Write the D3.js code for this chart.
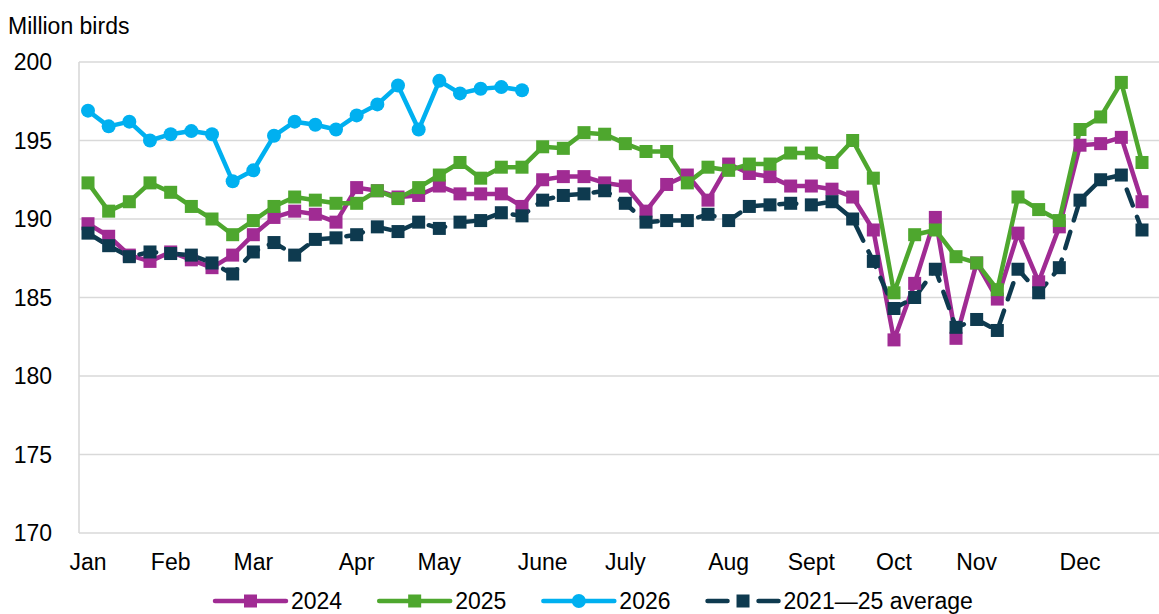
<!DOCTYPE html>
<html>
<head>
<meta charset="utf-8">
<script src="https://cdn.jsdelivr.net/npm/d3@7"></script>
<style>
  body { margin: 0; background: #fff; }
  text { font-family: Arial, "Liberation Sans", sans-serif; fill: #000; }
</style>
</head>
<body>
<script>
// chart data: weekly values, million birds
var weeks = d3.range(1, 53);
var y2024 = [189.7, 188.9, 187.7, 187.3, 187.9, 187.4, 186.9, 187.7, 189.0, 190.1,
             190.5, 190.3, 189.8, 192.0, 191.8, 191.4, 191.5, 192.1, 191.6, 191.6,
             191.6, 190.8, 192.5, 192.7, 192.7, 192.3, 192.1, 190.5, 192.2, 192.8,
             191.2, 193.5, 192.9, 192.7, 192.1, 192.1, 191.9, 191.4, 189.3, 182.3,
             185.9, 190.1, 182.4, 187.2, 184.9, 189.1, 186.0, 189.5, 194.7, 194.8,
             195.2, 191.1];
var y2025 = [192.3, 190.5, 191.1, 192.3, 191.7, 190.8, 190.0, 189.0, 189.9, 190.8,
             191.4, 191.2, 191.0, 191.0, 191.8, 191.3, 192.0, 192.8, 193.6, 192.6,
             193.3, 193.3, 194.6, 194.5, 195.5, 195.4, 194.8, 194.3, 194.3, 192.3,
             193.3, 193.1, 193.5, 193.5, 194.2, 194.2, 193.6, 195.0, 192.6, 185.3,
             189.0, 189.3, 187.6, 187.2, 185.5, 191.4, 190.6, 189.9, 195.7, 196.5,
             198.7, 193.6];
var y2026 = [196.9, 195.9, 196.2, 195.0, 195.4, 195.6, 195.4, 192.4, 193.1, 195.3,
             196.2, 196.0, 195.7, 196.6, 197.3, 198.5, 195.7, 198.8, 198.0, 198.3,
             198.4, 198.2];
var yAvg = [189.1, 188.3, 187.6, 187.9, 187.8, 187.7, 187.2, 186.5, 187.9, 188.5,
            187.7, 188.7, 188.8, 189.0, 189.5, 189.2, 189.8, 189.4, 189.8, 189.9,
            190.4, 190.2, 191.2, 191.5, 191.6, 191.8, 191.0, 189.8, 189.9, 189.9,
            190.3, 189.9, 190.8, 190.9, 191.0, 190.9, 191.1, 190.0, 187.3, 184.3,
            185.0, 186.8, 183.1, 183.6, 182.9, 186.8, 185.3, 186.9, 191.2, 192.5,
            192.8, 189.3];

var monthLabels = ["Jan", "Feb", "Mar", "Apr", "May", "June", "July", "Aug", "Sept", "Oct", "Nov", "Dec"];
var monthWeeks = [1, 5, 9, 14, 18, 23, 27, 32, 36, 40, 44, 49];
var yTicks = [170, 175, 180, 185, 190, 195, 200];

var series = [
  { name: "2024", values: y2024, color: "#A02B93", marker: "square", dash: null },
  { name: "2025", values: y2025, color: "#4EA72E", marker: "square", dash: null },
  { name: "2026", values: y2026, color: "#00B0F0", marker: "circle", dash: null },
  { name: "2021\u201425 average", values: yAvg, color: "#0E3A4F", marker: "square", dash: "17,12" }
];

var width = 1159,
    height = 614;

var x = d3.scaleLinear().domain([1, 52]).range([88, 1142]);
var y = d3.scaleLinear().domain([170, 200]).range([533, 62]);

var svg = d3.select("body").append("svg")
    .attr("width", width)
    .attr("height", height);

// gridlines
svg.append("g")
    .selectAll("line")
    .data(yTicks)
    .enter().append("line")
    .attr("x1", 79)
    .attr("x2", width)
    .attr("y1", function(d) { return y(d); })
    .attr("y2", function(d) { return y(d); })
    .attr("stroke", "#D9D9D9")
    .attr("stroke-width", 1.6);

// left axis line
svg.append("line")
    .attr("x1", 79).attr("x2", 79)
    .attr("y1", y(200)).attr("y2", y(170))
    .attr("stroke", "#D9D9D9")
    .attr("stroke-width", 1.6);

// y tick labels
svg.append("g")
    .selectAll("text")
    .data(yTicks)
    .enter().append("text")
    .attr("x", 52)
    .attr("y", function(d) { return y(d) + 8; })
    .attr("text-anchor", "end")
    .style("font-size", "23px")
    .text(function(d) { return d; });

svg.append("text")
    .attr("x", 8)
    .attr("y", 34)
    .style("font-size", "23px")
    .text("Million birds");

// month labels
svg.append("g")
    .selectAll("text")
    .data(monthLabels)
    .enter().append("text")
    .attr("x", function(d, i) { return x(monthWeeks[i]); })
    .attr("y", 570)
    .attr("text-anchor", "middle")
    .style("font-size", "23px")
    .text(function(d) { return d; });

var line = d3.line()
    .x(function(d, i) { return x(weeks[i]); })
    .y(function(d) { return y(d); });

// lines first
svg.append("g")
    .selectAll("path")
    .data(series)
    .enter().append("path")
    .attr("d", function(s) { return line(s.values); })
    .attr("fill", "none")
    .attr("stroke", function(s) { return s.color; })
    .attr("stroke-width", 4.5)
    .attr("stroke-linejoin", "round")
    .attr("stroke-linecap", "round")
    .attr("stroke-dasharray", function(s) { return s.dash; });

// then markers
function drawMarker(g, s, cx, cy) {
  if (s.marker === "circle") {
    g.append("circle")
        .attr("cx", cx).attr("cy", cy).attr("r", 7)
        .attr("fill", s.color);
  } else {
    g.append("rect")
        .attr("x", cx - 6.5).attr("y", cy - 6.5)
        .attr("width", 13).attr("height", 13)
        .attr("fill", s.color);
  }
}

series.forEach(function(s) {
  var g = svg.append("g");
  s.values.forEach(function(v, i) {
    drawMarker(g, s, x(weeks[i]), y(v));
  });
});

// legend
var legend = svg.append("g");
var lx = 215, ly = 601;
series.forEach(function(s) {
  var item = legend.append("g");
  item.append("line")
      .attr("x1", lx).attr("x2", lx + 71)
      .attr("y1", ly).attr("y2", ly)
      .attr("stroke", s.color)
      .attr("stroke-width", 4.5)
      .attr("stroke-linecap", "round")
      .attr("stroke-dasharray", s.dash ? "20,31,20" : null);
  drawMarker(item, s, lx + 35.5, ly);
  var t = item.append("text")
      .attr("x", lx + 76)
      .attr("y", ly + 8)
      .style("font-size", "23px")
      .text(s.name);
  lx += 76 + t.node().getComputedTextLength() + 37;
});
</script>
</body>
</html>
